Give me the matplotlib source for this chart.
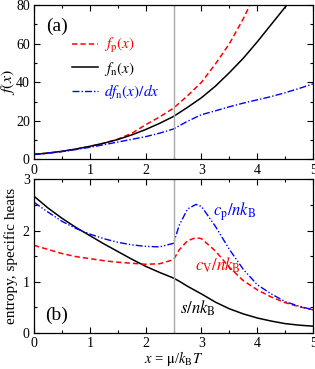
import matplotlib
matplotlib.use("Agg")
import matplotlib.pyplot as plt
from matplotlib.ticker import MultipleLocator

plt.rcParams['font.family'] = ['Liberation Serif', 'DejaVu Serif']
plt.rcParams['mathtext.fontset'] = 'stix'

# panel (a): functions of x = mu/kT
x_top = [0, 0.25, 0.5, 0.75, 1, 1.25, 1.5, 1.75, 2, 2.25, 2.5, 2.75,
         3, 3.25, 3.5, 3.75, 4, 4.25, 4.5, 4.75, 5]
f_p = [2.5, 3.2, 4.1, 5.3, 6.7, 8.4, 10.5, 13.5, 18.0, 22.0, 26.6, 33.0,
       40.0, 49.5, 60.0, 73.0, 88.0, 105, 124, 145, 170]
f_n = [2.6, 3.3, 4.2, 5.4, 6.8, 8.4, 10.3, 12.7, 15.5, 18.7, 22.3, 27.0,
       32.0, 38.0, 45.0, 52.5, 61.0, 70.0, 79.0, 89.0, 100.0]
df_n = [2.6, 3.3, 4.1, 5.1, 6.3, 7.6, 9.0, 10.4, 11.8, 13.6, 15.8, 19.8,
        23.2, 25.2, 27.3, 29.2, 30.9, 32.6, 34.6, 36.8, 39.2]

# panel (b): entropy and specific heats
x_bot = [0, 0.25, 0.5, 0.75, 1, 1.25, 1.5, 1.75, 2, 2.25, 2.5, 2.6, 2.75,
         2.9, 3, 3.25, 3.5, 3.75, 4, 4.25, 4.5, 4.75, 5]
s_nk = [2.67, 2.44, 2.24, 2.06, 1.90, 1.74, 1.59, 1.44, 1.30, 1.18, 1.07,
        1.01, 0.91, 0.82, 0.76, 0.60, 0.47, 0.37, 0.29, 0.23, 0.18, 0.15, 0.13]
cp_nk = [2.55, 2.36, 2.18, 2.04, 1.93, 1.84, 1.77, 1.72, 1.69, 1.68, 1.75,
         2.10, 2.42, 2.51, 2.47, 2.08, 1.63, 1.24, 0.94, 0.76, 0.61, 0.52, 0.45]
cv_nk = [1.71, 1.63, 1.55, 1.49, 1.45, 1.41, 1.38, 1.36, 1.34, 1.35, 1.43,
         1.62, 1.80, 1.86, 1.84, 1.60, 1.28, 1.02, 0.84, 0.70, 0.59, 0.51, 0.45]

x_cut = 2.5

fig = plt.figure(figsize=(3.15, 3.69), dpi=100)
ax1 = fig.add_axes([0.108, 0.568, 0.886, 0.418])
ax2 = fig.add_axes([0.108, 0.098, 0.886, 0.416])

# top panel
ax1.plot(x_top, f_p, color='red', ls=(0, (3.5, 2)), lw=1.1, label=r'$f_{\rm p}(x)$')
ax1.plot(x_top, f_n, color='black', lw=1.1, label=r'$f_{\rm n}(x)$')
ax1.plot(x_top, df_n, color='blue', ls=(0, (5, 1.5, 1, 1.5)), lw=1.0,
         label=r'$df_{\rm n}(x)/dx$')
ax1.axvline(x_cut, color='#aaaaaa', lw=1.0)
ax1.set_xlim(0, 5)
ax1.set_ylim(0, 80)
ax1.yaxis.set_major_locator(MultipleLocator(20))
ax1.yaxis.set_minor_locator(MultipleLocator(10))
ax1.set_ylabel(r'$f(x)$', fontsize=11.5)
ax1.yaxis.set_label_coords(-0.062, 0.5)
ax1.text(0.082, 0.86, '(a)', transform=ax1.transAxes, fontsize=14,
         ha='center', va='center')
leg = ax1.legend(loc='upper left', bbox_to_anchor=(0.135, 0.80), frameon=False,
                 fontsize=11, handlelength=1.7, handletextpad=0.4,
                 labelspacing=0.3, borderpad=0, borderaxespad=0)
for t, c in zip(leg.get_texts(), ['red', 'black', 'blue']):
    t.set_color(c)

# bottom panel
ax2.plot(x_bot, s_nk, color='black', lw=1.1)
ax2.plot(x_bot, cv_nk, color='red', ls=(0, (3.5, 2)), lw=1.1)
ax2.plot(x_bot, cp_nk, color='blue', ls=(0, (5, 1.5, 1, 1.5, 1, 1.5)), lw=1.0)
ax2.axvline(x_cut, color='#aaaaaa', lw=1.0)
ax2.set_xlim(0, 5)
ax2.set_ylim(0, 3)
ax2.yaxis.set_major_locator(MultipleLocator(1))
ax2.yaxis.set_minor_locator(MultipleLocator(0.5))
ax2.set_ylabel('entropy, specific heats', fontsize=11)
ax2.yaxis.set_label_coords(-0.058, 0.5)
ax2.set_xlabel(r'$x$ = $\rm\mu$/$k_{\rm B}T$', fontsize=10.5, labelpad=-0.5)
ax2.text(0.082, 0.116, '(b)', transform=ax2.transAxes, fontsize=14,
         ha='center', va='center')
ax2.text(3.21, 2.36, r'$c_{\rm p}/nk_{\rm B}$', color='blue', fontsize=12,
         ha='left', va='center')
ax2.text(2.89, 1.32, r'$c_{\rm V}/nk_{\rm B}$', color='red', fontsize=12,
         ha='left', va='center')
ax2.text(2.62, 0.48, r'$s/nk_{\rm B}$', color='black', fontsize=12,
         ha='left', va='center')

for ax in (ax1, ax2):
    ax.xaxis.set_major_locator(MultipleLocator(1))
    ax.xaxis.set_minor_locator(MultipleLocator(0.5))
    ax.tick_params(which='both', direction='in', top=True, right=True,
                   labelsize=10, pad=3)
    ax.tick_params(which='major', length=4, width=0.8)
    ax.tick_params(which='minor', length=2.5, width=0.8)
    for sp in ax.spines.values():
        sp.set_linewidth(0.9)

fig.savefig('out.png', dpi=100)
